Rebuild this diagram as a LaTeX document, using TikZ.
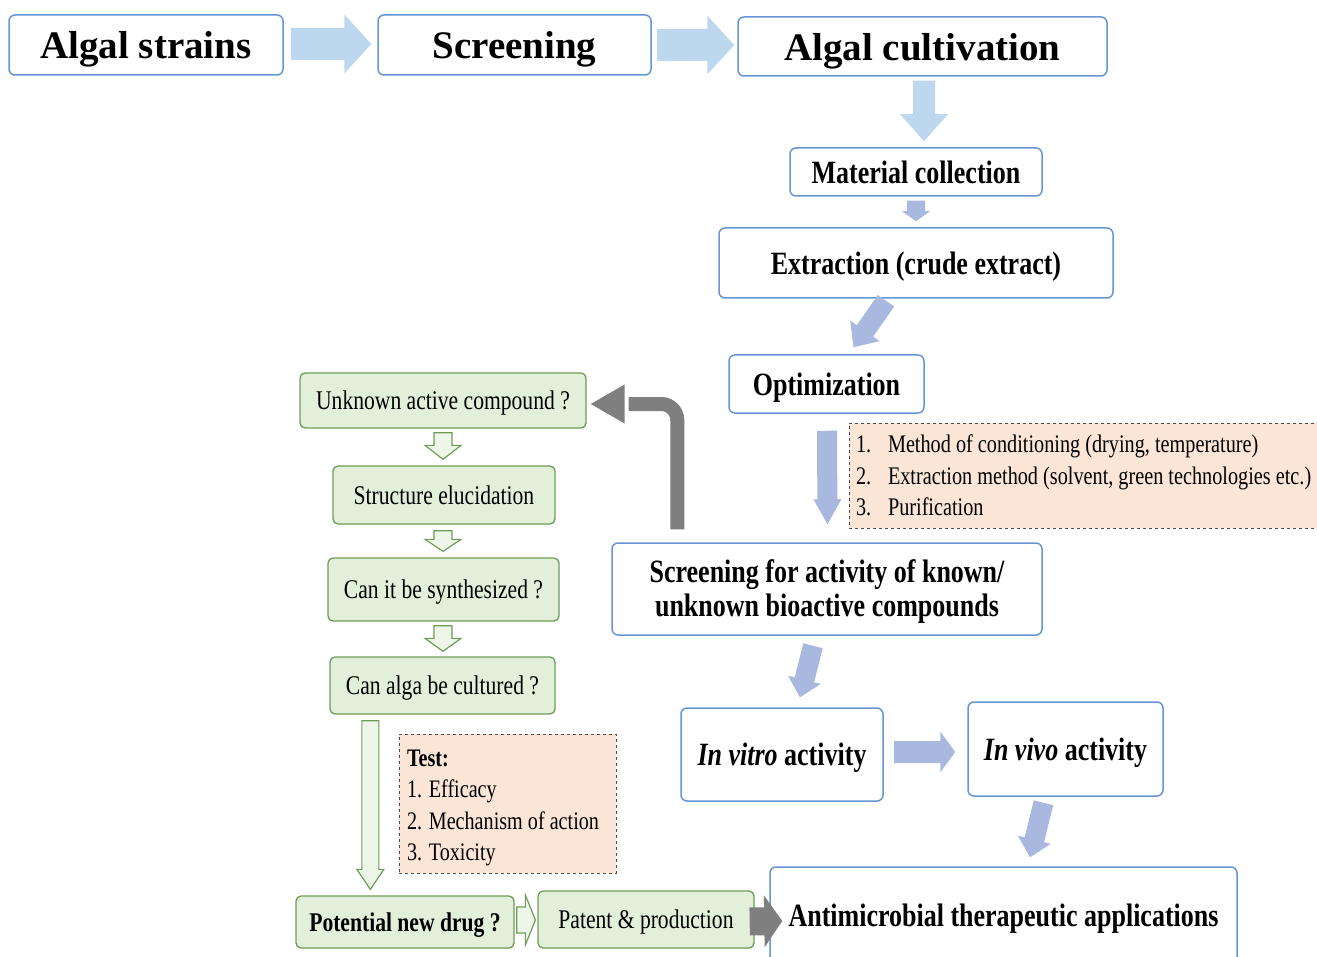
\documentclass[tikz,border=0pt]{standalone}
\usepackage{fontspec}
\setmainfont{Liberation Serif}
\newfontfamily\cf[FakeStretch=0.8]{Liberation Serif}
\usetikzlibrary{calc}
\definecolor{topblue}{HTML}{BDD7EE}
\definecolor{lowblue}{HTML}{A9B8DF}
\definecolor{bb}{HTML}{6695D6}
\definecolor{gfill}{HTML}{E2EFDA}
\definecolor{gborder}{HTML}{6E9C57}
\definecolor{peach}{HTML}{FBE5D6}
\definecolor{grayc}{HTML}{7F7F7F}
\tikzset{
  bbox/.style={draw=bb, line width=1.5pt, rounded corners=6pt, fill=white, align=center, inner sep=0pt},
  topfont/.style={font=\bfseries\fontsize{39}{42}\selectfont, text height=36pt, text depth=8pt},
  midfont/.style={font=\cf\bfseries\fontsize{32.5}{34}\selectfont, text height=29.5pt, text depth=7pt},
  gbox/.style={draw=gborder, fill=gfill, line width=1.3pt, rounded corners=5pt, align=center, inner sep=0pt,
    font=\cf\fontsize{27}{30}\selectfont, text height=24.5pt, text depth=5.8pt},
  notebox/.style={draw=black!70, dashed, fill=peach, line width=1pt, align=left, inner ysep=0pt, inner xsep=7pt,
    font=\cf\fontsize{25.3}{31.5}\selectfont},
  toparrow/.style={fill=topblue},
  lowarrow/.style={fill=lowblue},
  hollow/.style={fill=gfill!60!white, draw=gborder, line width=1.2pt},
  grayarrow/.style={fill=grayc}
}
% block arrow: style, start coord, end coord, shaft half width, head half width, head length
\newcommand{\barrow}[6]{%
  \coordinate (ba-n) at ($(#3)!#6pt!(#2)$);
  \path[#1] ($(#2)!#4pt!90:(#3)$) -- ($(ba-n)!#4pt!90:(#3)$) -- ($(ba-n)!#5pt!90:(#3)$) -- (#3)
    -- ($(ba-n)!#5pt!-90:(#3)$) -- ($(ba-n)!#4pt!-90:(#3)$) -- ($(#2)!#4pt!-90:(#3)$) -- cycle;}
\begin{document}
\begin{tikzpicture}[x=1pt,y=-1pt]
\useasboundingbox (0,0) rectangle (1317,957);
% top row
\node[bbox, topfont, minimum width=274, minimum height=60] (as) at (146,45) {Algal strains};
\node[bbox, topfont, minimum width=273, minimum height=60] (scr0) at (514.5,45) {Screening};
\node[bbox, topfont, minimum width=369, minimum height=59] (cult) at (922.5,46.5) {Algal cultivation};
% right column
\node[bbox, midfont, minimum width=252, minimum height=48] (mat) at (916,172) {Material collection};
\node[bbox, midfont, minimum width=394, minimum height=70] (ext) at (916,263) {Extraction (crude extract)};
\node[bbox, midfont, minimum width=195, minimum height=58] (opt) at (826.5,384) {Optimization};
\node[notebox, text width=454, minimum height=105] (note) at (1083,475.5) {\spaceskip=0pt\xspaceskip=0pt\relax
  \mbox{\makebox[32pt][l]{1.}Method of conditioning (drying, temperature)}\\
  \mbox{\makebox[32pt][l]{2.}Extraction method (solvent, green technologies etc.)}\\
  \mbox{\makebox[32pt][l]{3.}Purification}};
\node[draw=bb, line width=1.5pt, rounded corners=6pt, fill=white, inner sep=0pt,
  font=\cf\bfseries\fontsize{32.5}{34}\selectfont, text height=46pt, text depth=27pt,
  minimum width=430, minimum height=92] (scr) at (827,589)
  {\begin{tabular}{@{}c@{}}Screening for activity of known/\\unknown bioactive compounds\end{tabular}};
\node[bbox, midfont, minimum width=202, minimum height=93] (vitro) at (782,754.5) {{\itshape In vitro} activity};
\node[bbox, midfont, minimum width=195, minimum height=94] (vivo) at (1065.5,749) {{\itshape In vivo} activity};
\node[bbox, midfont, minimum width=467, minimum height=96] (anti) at (1003.5,915) {Antimicrobial therapeutic applications};
% green column
\node[gbox, minimum width=286, minimum height=55] (unk) at (443,400.5) {Unknown active compound ?};
\node[gbox, minimum width=222, minimum height=58] (struc) at (444,495) {Structure elucidation};
\node[gbox, minimum width=231, minimum height=63] (syn) at (443.5,589.5) {Can it be synthesized ?};
\node[gbox, minimum width=225, minimum height=57] (alga) at (442.5,685.5) {Can alga be cultured ?};
\node[notebox, font=\cf\fontsize{25.2}{31.5}\selectfont, text width=201, inner xsep=8pt, minimum height=139] (test) at (507.5,803.5) {\spaceskip=0pt\xspaceskip=0pt\relax
  \mbox{\rule{0pt}{25pt}\bfseries Test:}\\\mbox{1. Efficacy}\\\mbox{2. Mechanism of action}\\\mbox{3. Toxicity}};
\node[gbox, font=\cf\bfseries\fontsize{27}{30}\selectfont, minimum width=218, minimum height=52] (pot) at (405,922) {Potential new drug ?};
\node[gbox, minimum width=216, minimum height=57] (pat) at (646,919.5) {Patent \& production};
% top arrows
\coordinate (a1s) at ($(as.east)+(7,-1)$);
\coordinate (a1e) at ($(scr0.west)+(-6,-1)$);
\barrow{toparrow}{a1s}{a1e}{16}{29.5}{27}
\coordinate (a2s) at ($(scr0.east)+(5,0)$);
\coordinate (a2e) at ($(cult.west)+(-3,-1.5)$);
\barrow{toparrow}{a2s}{a2e}{16}{29.5}{27}
\coordinate (a3s) at ($(cult.south)+(1.5,4)$);
\coordinate (a3e) at ($(mat.north)+(8,-6)$);
\barrow{toparrow}{a3s}{a3e}{11}{24}{27}
% lower blue arrows
\coordinate (a4s) at ($(mat.south)+(0,4)$);
\coordinate (a4e) at ($(ext.north)+(0,-6)$);
\barrow{lowarrow}{a4s}{a4e}{9}{14}{10}
\coordinate (a5s) at ($(ext.south)+(-30,2)$);
\coordinate (a5e) at ($(opt.north)+(27,-7)$);
\barrow{lowarrow}{a5s}{a5e}{10}{18}{20}
\coordinate (a6s) at ($(opt.south)+(0.5,17)$);
\coordinate (a6e) at ($(scr.north)+(0.5,-18)$);
\barrow{lowarrow}{a6s}{a6e}{10}{14}{25}
\coordinate (a7s) at ($(scr.south)+(-14,10)$);
\coordinate (a7e) at ($(vitro.north)+(18,-10)$);
\barrow{lowarrow}{a7s}{a7e}{10}{17}{18}
\coordinate (a8s) at ($(vitro.east)+(10,-2.5)$);
\coordinate (a8e) at ($(vivo.west)+(-12,3)$);
\barrow{lowarrow}{a8s}{a8e}{11}{20.5}{15}
\coordinate (a9s) at ($(vivo.south)+(-22,6)$);
\coordinate (a9e) at ($(anti.north)+(26.5,-9)$);
\barrow{lowarrow}{a9s}{a9e}{10}{17}{18}
% gray bent arrow
\coordinate (gs) at ($(scr.north west)+(66,-13)$);
\coordinate (gt) at ($(unk.east)+(4,3.5)$);
\draw[grayc, line width=14pt, rounded corners=16pt] (gs) |- ($(gt)+(38,0)$);
\fill[grayc] ($(gt)+(34,-19.5)$) -- (gt) -- ($(gt)+(34,19.5)$) -- cycle;
% hollow green arrows
\coordinate (h1s) at ($(unk.south)+(0,4)$);
\coordinate (h1e) at ($(struc.north)+(-1,-6)$);
\barrow{hollow}{h1s}{h1e}{9}{18}{14}
\coordinate (h2s) at ($(struc.south)+(-1,6)$);
\coordinate (h2e) at ($(syn.north)+(-0.5,-6)$);
\barrow{hollow}{h2s}{h2e}{9}{18}{12}
\coordinate (h3s) at ($(syn.south)+(-0.5,4)$);
\coordinate (h3e) at ($(alga.north)+(0.5,-5)$);
\barrow{hollow}{h3s}{h3e}{9}{18}{13}
\coordinate (h4s) at ($(alga.south west)+(41,6)$);
\coordinate (h4e) at ($(pot.north west)+(75,-6)$);
\barrow{hollow}{h4s}{h4e}{8.5}{13.5}{20}
\coordinate (h5s) at ($(pot.east)+(2,-2)$);
\coordinate (h5e) at ($(pat.west)+(-2,0.5)$);
\barrow{hollow}{h5s}{h5e}{13}{25}{10}
% gray arrow to applications
\coordinate (g2s) at ($(pat.east)+(-5,2)$);
\coordinate (g2e) at ($(anti.west)+(13,6)$);
\barrow{grayarrow}{g2s}{g2e}{14}{26}{18}
\end{tikzpicture}
\end{document}
